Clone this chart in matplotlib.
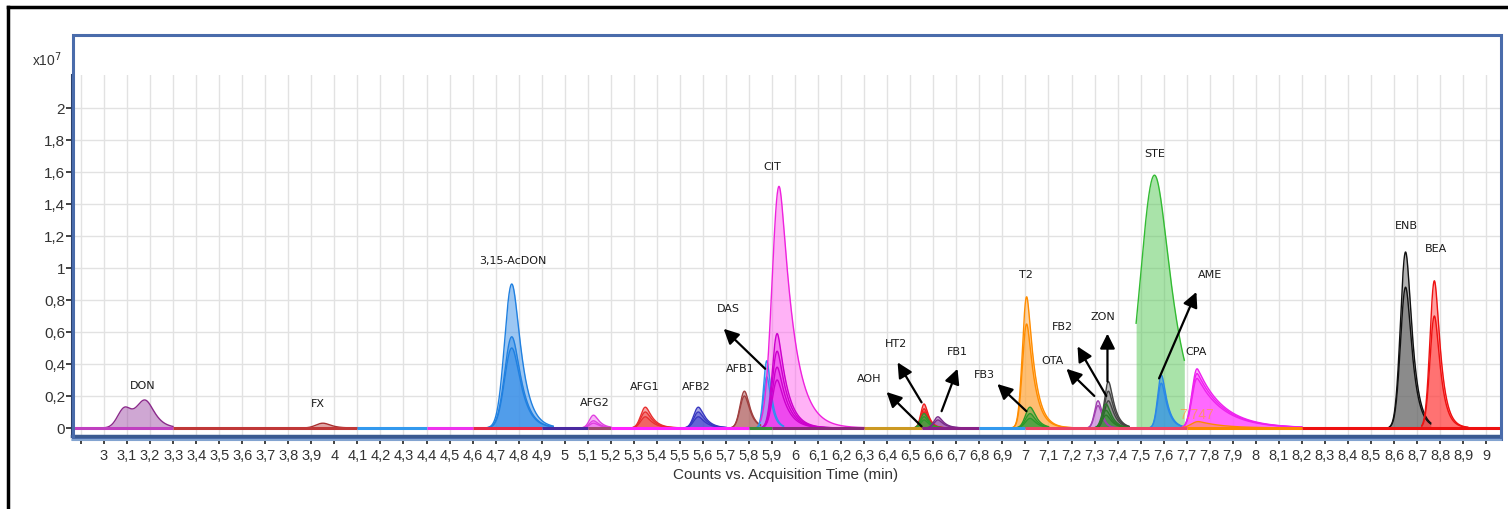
import numpy as np
import matplotlib
matplotlib.use('Agg')
import matplotlib.pyplot as plt
from matplotlib.lines import Line2D
from matplotlib.patches import Rectangle

#####
# Chromatogram peaks (retention time in min, heights in counts x10^7)

peak_names = ['DON', 'FX', '3,15-AcDON', 'AFG2', 'AFG1', 'AFB2', 'AFB1', 'DAS',
              'CIT', 'CIT low', 'HT2', 'AOH', 'FB1', 'T2', 'FB3', 'OTA',
              'ZON', 'FB2', 'STE', 'AME', 'CPA', 'CPA orange', 'ENB', 'BEA']
peak_rt = [3.18, 3.95, 4.77, 5.125, 5.35, 5.58, 5.78, 5.877,
           5.93, 5.922, 6.56, 6.56, 6.62, 7.005, 7.02, 7.315,
           7.36, 7.35, 7.56, 7.59, 7.745, 7.75, 8.65, 8.775]
peak_heights = [[0.16], [0.03], [0.90, 0.57, 0.50], [0.08, 0.045, 0.03],
                [0.13, 0.10, 0.07], [0.13, 0.10, 0.07], [0.23, 0.20], [0.42, 0.32],
                [1.51], [0.59, 0.48, 0.38, 0.30], [0.15, 0.12, 0.10], [0.09, 0.07, 0.05],
                [0.07, 0.05], [0.82, 0.65], [0.13, 0.09, 0.06], [0.17, 0.14],
                [0.29, 0.23, 0.17], [0.15, 0.11, 0.08], [1.58], [0.33, 0.28],
                [0.37, 0.34, 0.31], [0.04], [1.10, 0.88], [0.92, 0.70]]
# shoulder of the DON peak
don_shoulder_rt = 3.09
don_shoulder_height = 0.125

# label text and where it sits
label_text = ['DON', 'FX', '3,15-AcDON', 'AFG2', 'AFG1', 'AFB2', 'AFB1', 'DAS', 'CIT',
              'AOH', 'HT2', 'FB1', 'FB3', 'T2', 'OTA', 'FB2', 'ZON', 'STE', 'AME',
              'CPA', 'ENB', 'BEA']
label_x = [3.17, 3.93, 4.775, 5.13, 5.347, 5.573, 5.76, 5.71, 5.90,
           6.32, 6.44, 6.705, 6.82, 7.00, 7.117, 7.16, 7.338, 7.56, 7.80,
           7.74, 8.653, 8.783]
label_y = [0.27, 0.155, 1.05, 0.16, 0.26, 0.26, 0.375, 0.75, 1.64,
           0.31, 0.53, 0.48, 0.34, 0.96, 0.425, 0.64, 0.70, 1.72, 0.96,
           0.48, 1.27, 1.125]

# arrows (tail -> head)
arrow_tail = [(5.87, 0.37), (6.549, 0.01), (6.549, 0.16), (6.636, 0.105),
              (7.004, 0.105), (7.299, 0.20), (7.351, 0.20), (7.356, 0.29), (7.58, 0.31)]
arrow_head = [(5.69, 0.62), (6.397, 0.225), (6.445, 0.41), (6.705, 0.37),
              (6.878, 0.275), (7.178, 0.37), (7.226, 0.51), (7.356, 0.59), (7.742, 0.85)]

# coloured baseline segments of the acquisition windows
seg_start = [2.86, 3.3, 4.1, 4.4, 4.6, 4.9, 5.1, 5.2, 5.8, 5.9, 6.3, 6.55, 6.8, 7.0, 7.7, 8.2]
seg_end = [3.3, 4.1, 4.4, 4.6, 4.9, 5.1, 5.2, 5.8, 5.9, 6.3, 6.55, 6.8, 7.0, 7.7, 8.2, 9.06]
seg_color = ['#c040c0', '#c03838', '#3399ee', '#ee33ee', '#e82848', '#4a2aa0', '#a04870',
             '#ff22ff', '#3a8a3a', '#8a2a7a', '#cc9922', '#882288', '#3399ee', '#ee4466',
             '#ff8800', '#ee1111']

# peak shape / style
peak_sigma = [0.035, 0.03, 0.031, 0.018, 0.02, 0.02, 0.019, 0.014,
              0.03, 0.021, 0.014, 0.015, 0.017, 0.018, 0.02, 0.015,
              0.017, 0.017, 0.06, 0.016, 0.022, 0.03, 0.022, 0.019]
peak_tau = [0.03, 0.025, 0.036, 0.024, 0.03, 0.03, 0.022, 0.018,
            0.055, 0.04, 0.018, 0.018, 0.024, 0.032, 0.024, 0.015,
            0.024, 0.024, 0.065, 0.024, 0.11, 0.1, 0.026, 0.025]
peak_window = [(3.0, 3.3), (3.8, 4.1), (4.65, 4.95), (5.05, 5.2), (5.25, 5.5), (5.5, 5.7),
               (5.7, 5.85), (5.82, 5.95), (5.85, 6.3), (5.85, 6.3), (6.5, 6.65), (6.5, 6.65),
               (6.55, 6.75), (6.94, 7.2), (6.95, 7.1), (7.25, 7.4),
               (7.3, 7.45), (7.3, 7.45), (7.48, 7.69), (7.54, 7.68), (7.68, 8.2), (7.68, 8.2),
               (8.58, 8.76), (8.72, 8.92)]
peak_edge = ['#8b2a8b', '#a83030', '#2080e0', '#e040e0', '#e83030', '#3838c0', '#a04040',
             '#3090f0', '#ee22dd', '#cc00cc', '#ee2020', '#2c9a2c', '#7a2a8a', '#ff8c00',
             '#2a9a2a', '#a040b0', '#444444', '#2a7a2a', '#33bb33', '#2a88e8', '#ee22ee',
             '#ff8800', '#111111', '#ee1111']
peak_fill = ['#a050a8', '#c05050', '#3a90e8', '#f070f0', '#f05050', '#5050d0', '#b06060',
             '#40a0f0', '#ff66ee', '#ee44ee', '#f04040', '#40a040', '#9040a0', '#ffaa44',
             '#40a040', '#cc88dd', '#888888', '#409040', '#55c855', '#3090e8', '#ff55ff',
             '#ff9933', '#666666', '#ff4444']


def shape(t, rt, s, tau):
    d = t - rt
    c = s * s / tau
    left = np.exp(-0.5 * (d / s) ** 2)
    right = np.exp(-(np.sqrt(d * d + c * c) - c) / tau)
    return np.where(d < 0, left, right)


def comma(v):
    s = ('%.1f' % v).rstrip('0').rstrip('.')
    return s.replace('.', ',')


W, H = 1508, 510
fig = plt.figure(figsize=(W / 100, H / 100), dpi=100)
ax = fig.add_axes([72 / W, 1 - 437 / H, (1500 - 72) / W, (437 - 76) / H])

narrow = ['Liberation Sans', 'DejaVu Sans']

t = np.linspace(2.86, 9.06, 8000)
for i, name in enumerate(peak_names):
    t0, t1 = peak_window[i]
    m = (t >= t0) & (t <= t1)
    tt = t[m]
    for h in peak_heights[i]:
        y = h * shape(tt, peak_rt[i], peak_sigma[i], peak_tau[i])
        if name == 'DON':
            y = y + don_shoulder_height * shape(tt, don_shoulder_rt, 0.03, 0.03)
        ax.fill_between(tt, 0, y, color=peak_fill[i], alpha=0.5, lw=0, zorder=2)
        ax.plot(tt, y, color=peak_edge[i], lw=1.0, zorder=3)

for s0, s1, c in zip(seg_start, seg_end, seg_color):
    ax.plot([s0, s1], [0, 0], color=c, lw=2.2, solid_capstyle='butt', zorder=4)

for txt, x, y in zip(label_text, label_x, label_y):
    ax.text(x, y, txt, ha='center', va='center', fontsize=8, color='#1a1a1a', zorder=6)

ax.text(7.745, 0.085, '7.747', ha='center', va='center', fontsize=10,
        color='#ff9944', alpha=0.75, family=narrow, zorder=5)

for tail, head in zip(arrow_tail, arrow_head):
    ax.annotate('', xy=head, xytext=tail, zorder=7,
                arrowprops=dict(arrowstyle='-|>,head_length=0.9,head_width=0.45',
                                color='black', lw=1.6, shrinkA=0, shrinkB=0))

# axes / grid
ax.set_xlim(2.861, 9.06)
ax.set_ylim(-0.05, 2.206)
xt = np.round(np.arange(2.9, 9.001, 0.1), 1)
ax.set_xticks(xt)
ax.set_xticklabels(['' if v < 2.95 else comma(v) for v in xt], family=narrow, fontsize=10.5,
                   color='#333333')
yt = np.round(np.arange(0, 2.001, 0.2), 1)
ax.set_yticks(yt)
ax.set_yticklabels([comma(v) for v in yt], family=narrow, fontsize=11, color='#333333')
ax.grid(True, color='#e2e2e2', lw=1.0, zorder=0)
ax.set_axisbelow(True)
ax.tick_params(axis='x', direction='out', length=6, width=1.2, color='#222222', pad=3)
ax.tick_params(axis='y', direction='out', length=4, width=1.2, color='#222222', pad=1)
for sp in ['top', 'right']:
    ax.spines[sp].set_visible(False)
ax.spines['left'].set_color('#2a3f6a')
ax.spines['left'].set_linewidth(2.2)
ax.spines['bottom'].set_color('#3a5a90')
ax.spines['bottom'].set_linewidth(2.5)
ax.set_xlabel('Counts vs. Acquisition Time (min)', family=narrow, fontsize=11,
              color='#333333', labelpad=3)

# blue chart frame and x10^7 factor
fig.add_artist(Rectangle((73 / W, 1 - 440 / H), (1501 - 73) / W, (440 - 36) / H,
                         transform=fig.transFigure, fill=False, edgecolor='#4a6cab', lw=2.2))
fig.add_artist(Line2D([72 / W, 1501 / W], [1 - 441 / H, 1 - 441 / H],
                      transform=fig.transFigure, color='#8fb0d8', lw=1.2))
fig.text(47 / W, 1 - 60 / H, 'x10$^{7}$', ha='center', va='center', fontsize=10,
         family=narrow, color='#333333')

# black outer border
fig.add_artist(Line2D([8 / W, 1], [1 - 8 / H, 1 - 8 / H], transform=fig.transFigure,
                      color='black', lw=2.5))
fig.add_artist(Line2D([8 / W, 8 / W], [0, 1 - 8 / H], transform=fig.transFigure,
                      color='black', lw=2.5))

fig.savefig('out.png', dpi=100)
plt.close(fig)
